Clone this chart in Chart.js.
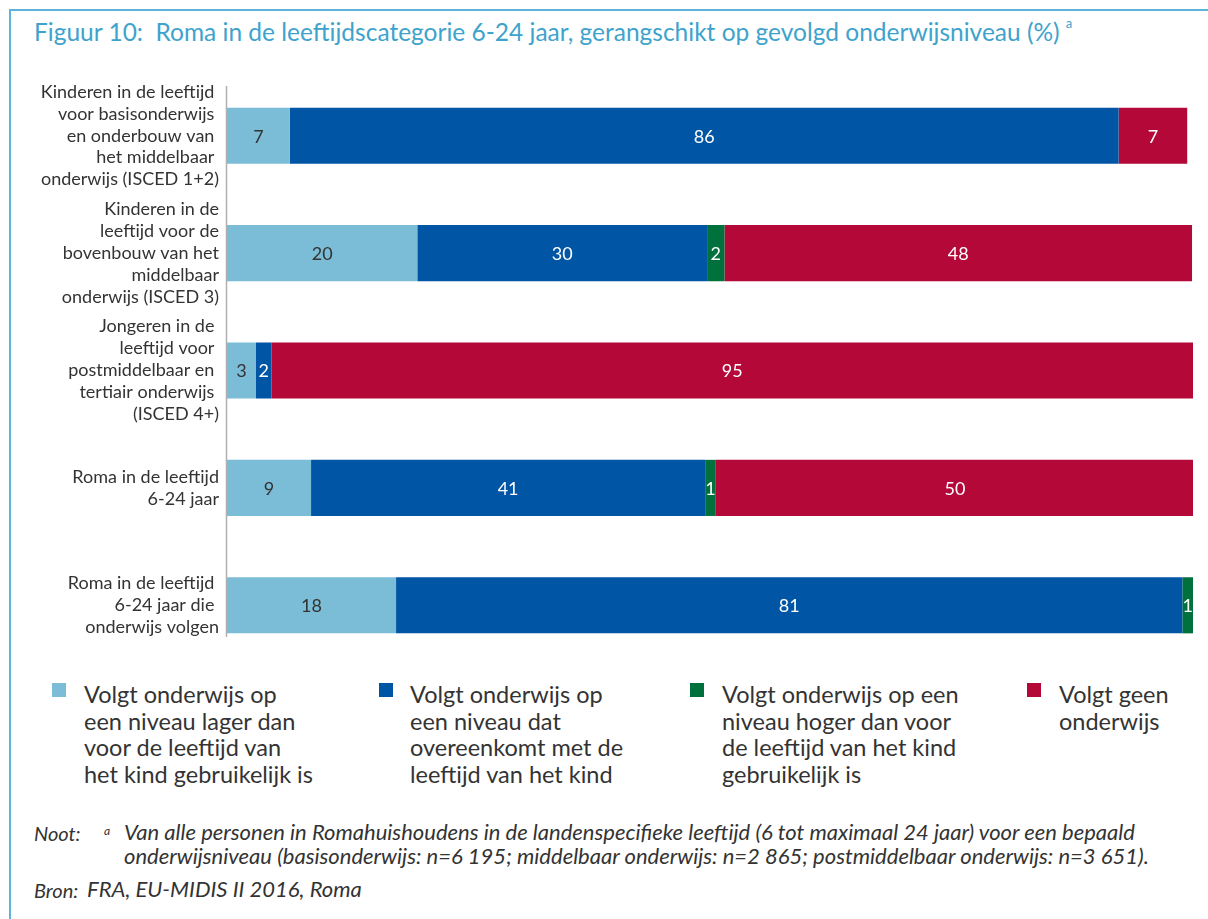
<!DOCTYPE html>
<html><head><meta charset="utf-8">
<script src="https://cdn.jsdelivr.net/npm/chart.js@4.4.0/dist/chart.umd.min.js"></script>
<style>
html,body{margin:0;padding:0;background:#fff;}
body{width:1208px;height:919px;position:relative;overflow:hidden;font-family:Lato,"Open Sans",sans-serif;}
#frame{position:absolute;left:9px;top:9px;width:1300px;height:1000px;border-top:2px solid #5db3d9;border-left:2px solid #5db3d9;}
#title{position:absolute;left:34px;top:17px;font-size:24.5px;line-height:1.2;color:#3ea3cc;white-space:nowrap;}
#title sup{font-size:13px;vertical-align:top;position:relative;top:-1px;margin-left:6px;}
#wrap{position:absolute;left:0;top:0;width:1208px;height:680px;}
.leg{position:absolute;top:681px;font-size:23.5px;line-height:26.7px;color:#333;white-space:nowrap;}
.sw{position:absolute;top:683px;width:14px;height:14px;}
.note{position:absolute;font-style:italic;font-size:22px;line-height:24px;color:#333;white-space:nowrap;}
.note.lab{font-size:20px;top:821px;}
.note sup{font-size:12px;vertical-align:top;position:relative;top:-1px;}
</style>
</head><body>
<div id="frame"></div>
<div id="title">Figuur 10:&nbsp; Roma in de leeftijdscategorie 6-24 jaar, gerangschikt op gevolgd onderwijsniveau (%)<sup>a</sup></div>
<div id="wrap"><canvas id="c" width="1208" height="680"></canvas></div>
<div id="legend"></div>
<div class="note lab" style="left:34px;top:821px;">Noot:</div>
<div class="note" style="left:104px;top:820px;"><sup>a</sup></div>
<div class="note" style="left:124px;top:820px;">Van alle personen in Romahuishoudens in de landenspecifieke leeftijd (6 tot maximaal 24 jaar) voor een bepaald<br>onderwijsniveau (basisonderwijs: n=6 195; middelbaar onderwijs: n=2 865; postmiddelbaar onderwijs: n=3 651).</div>
<div class="note lab" style="left:34px;top:878px;">Bron:</div>
<div class="note" style="left:87px;top:877px;">FRA, EU-MIDIS II 2016, Roma</div>
<script>
const categories = [
  ["Kinderen in de leeftijd ", "voor basisonderwijs ", "en onderbouw van ", "het middelbaar ", "onderwijs (ISCED 1+2)"],
  ["Kinderen in de", "leeftijd voor de", "bovenbouw van het", "middelbaar", "onderwijs (ISCED 3)"],
  ["Jongeren in de ", "leeftijd voor ", "postmiddelbaar en ", "tertiair onderwijs ", "(ISCED 4+)"],
  ["Roma in de leeftijd", "6-24 jaar"],
  ["Roma in de leeftijd ", "6-24 jaar die ", "onderwijs volgen"]
];
const seriesNames = [
  ["Volgt onderwijs op", "een niveau lager dan", "voor de leeftijd van", "het kind gebruikelijk is"],
  ["Volgt onderwijs op", "een niveau dat", "overeenkomt met de", "leeftijd van het kind"],
  ["Volgt onderwijs op een", "niveau hoger dan voor", "de leeftijd van het kind", "gebruikelijk is"],
  ["Volgt geen", "onderwijs"]
];
const lowerLevel    = [6.5, 19.7, 3.0, 8.7, 17.5];
const matchingLevel = [85.8, 30.0, 1.6, 40.8, 81.4];
const higherLevel   = [0, 1.8, 0, 1.1, 1.1];
const noEducation   = [7.1, 48.4, 95.4, 49.5, 0];

const colors = ["#7bbcd6", "#0055a4", "#00703c", "#b30838"];
const labelColors = ["#333333", "#ffffff", "#ffffff", "#ffffff"];
const legendTextX = [84, 410, 722, 1059];
const legendSwatchX = [52, 379, 690, 1027];

// legend
const lg = document.getElementById('legend');
seriesNames.forEach((lines, i) => {
  const sw = document.createElement('div');
  sw.className = 'sw'; sw.style.left = legendSwatchX[i] + 'px'; sw.style.background = colors[i];
  lg.appendChild(sw);
  const t = document.createElement('div');
  t.className = 'leg'; t.style.left = legendTextX[i] + 'px';
  t.innerHTML = lines.join('<br>');
  lg.appendChild(t);
});

const valueLabels = {
  id: 'valueLabels',
  afterDatasetsDraw(chart) {
    const ctx = chart.ctx;
    ctx.save();
    ctx.font = '18px Lato, "Open Sans", sans-serif';
    ctx.textAlign = 'center';
    ctx.textBaseline = 'middle';
    chart.data.datasets.forEach((ds, di) => {
      const meta = chart.getDatasetMeta(di);
      meta.data.forEach((el, i) => {
        const v = ds.data[i];
        if (!v) return;
        const p = el.getCenterPoint();
        ctx.fillStyle = labelColors[di];
        ctx.fillText(String(Math.round(v)), p.x, p.y + 1);
      });
    });
    ctx.restore();
  }
};
const axisLine = {
  id: 'axisLine',
  beforeDatasetsDraw(chart) {
    const ctx = chart.ctx, a = chart.chartArea;
    const x = Math.round(chart.scales.x.getPixelForValue(0)) - 0.5;
    ctx.save();
    ctx.strokeStyle = '#b0b0b0';
    ctx.lineWidth = 1.5;
    ctx.beginPath();
    ctx.moveTo(x, a.top + 9);
    ctx.lineTo(x, a.bottom - 27);
    ctx.stroke();
    ctx.restore();
  }
};

new Chart(document.getElementById('c'), {
  type: 'bar',
  data: {
    labels: categories,
    datasets: [
      { label: seriesNames[0].join(' '), data: lowerLevel, backgroundColor: colors[0] },
      { label: seriesNames[1].join(' '), data: matchingLevel, backgroundColor: colors[1] },
      { label: seriesNames[2].join(' '), data: higherLevel, backgroundColor: colors[2] },
      { label: seriesNames[3].join(' '), data: noEducation, backgroundColor: colors[3] }
    ]
  },
  options: {
    indexAxis: 'y',
    responsive: false,
    animation: false,
    devicePixelRatio: 1,
    layout: { padding: { top: 77, bottom: 16, left: 0, right: 15 } },
    datasets: { bar: { barPercentage: 0.478, categoryPercentage: 1, borderWidth: 0 } },
    plugins: { legend: { display: false }, tooltip: { enabled: false }, title: { display: false } },
    scales: {
      x: { stacked: true, display: false, min: 0, max: 100 },
      y: {
        stacked: true,
        grid: { display: false, drawTicks: false },
        border: { display: false },
        ticks: { color: '#333', padding: 8, font: { family: 'Lato, "Open Sans", sans-serif', size: 18, lineHeight: 1.22 } },
        afterFit(scale) { scale.width = 227; scale.paddingTop = 0; scale.paddingBottom = 0; }
      }
    }
  },
  plugins: [valueLabels, axisLine]
});
</script>
</body></html>
